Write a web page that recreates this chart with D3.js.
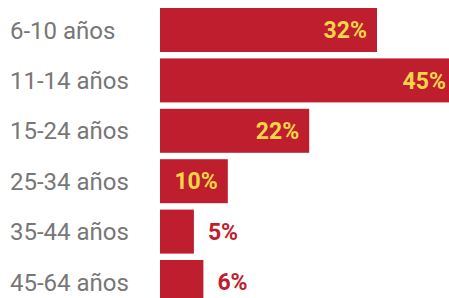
<!DOCTYPE html>
<html>
<head>
<meta charset="utf-8">
<title>Edades</title>
<script src="https://d3js.org/d3.v7.min.js"></script>
<style>
  body { margin: 0; background: #fff; overflow: hidden; }
  svg { display: block; }
  .cat { font-family: Roboto, sans-serif; font-size: 24px; fill: #777; }
  .val { font-family: Roboto, sans-serif; font-size: 23px; font-weight: 700; }
</style>
</head>
<body>
<div id="chart"></div>
<script>
  // age groups and share (%)
  const categories = ["6-10 años", "11-14 años", "15-24 años", "25-34 años", "35-44 años", "45-64 años"];
  const values = [32, 45, 22, 10, 5, 6.4];

  const W = 449, H = 298;
  const margin = {left: 160, top: 0};
  const innerW = W - margin.left;

  const red = "#be1e2d", yellow = "#f8d548";

  const svg = d3.select("#chart")
    .append("svg")
      .attr("width", W)
      .attr("height", H);

  const g = svg.append("g")
      .attr("transform", `translate(${margin.left},${margin.top})`);

  const data = categories.map((c, i) => ({cat: c, value: values[i]}));

  // x: 32% reaches about 217px
  const x = d3.scaleLinear()
      .domain([0, 32])
      .range([0, 217]);

  const y = d3.scaleBand()
      .domain(categories)
      .range([4.8, 307.2])
      .paddingInner(0.127)
      .paddingOuter(0.0635);

  // bars
  g.selectAll(".bar")
    .data(data)
    .enter()
    .append("rect")
      .attr("class", "bar")
      .attr("x", 0)
      .attr("y", d => y(d.cat))
      .attr("width", d => x(d.value))
      .attr("height", y.bandwidth())
      .attr("fill", red);

  // category labels
  svg.selectAll(".cat")
    .data(data)
    .enter()
    .append("text")
      .attr("class", "cat")
      .attr("x", 10)
      .attr("y", d => y(d.cat) + y.bandwidth() / 2)
      .attr("dy", "0.36em")
      .text(d => d.cat);

  // value labels: inside big bars, outside small ones
  const fmt = d => Math.round(d) + "%";
  const inside = d => x(d.value) > 60;

  g.selectAll(".val")
    .data(data)
    .enter()
    .append("text")
      .attr("class", "val")
      .attr("x", d => inside(d) ? Math.min(x(d.value) - 10, innerW - 3) : x(d.value) + 14)
      .attr("y", d => y(d.cat) + y.bandwidth() / 2)
      .attr("dy", "0.36em")
      .attr("text-anchor", d => inside(d) ? "end" : "start")
      .attr("fill", d => inside(d) ? yellow : red)
      .text(d => fmt(d.value));
</script>
</body>
</html>
